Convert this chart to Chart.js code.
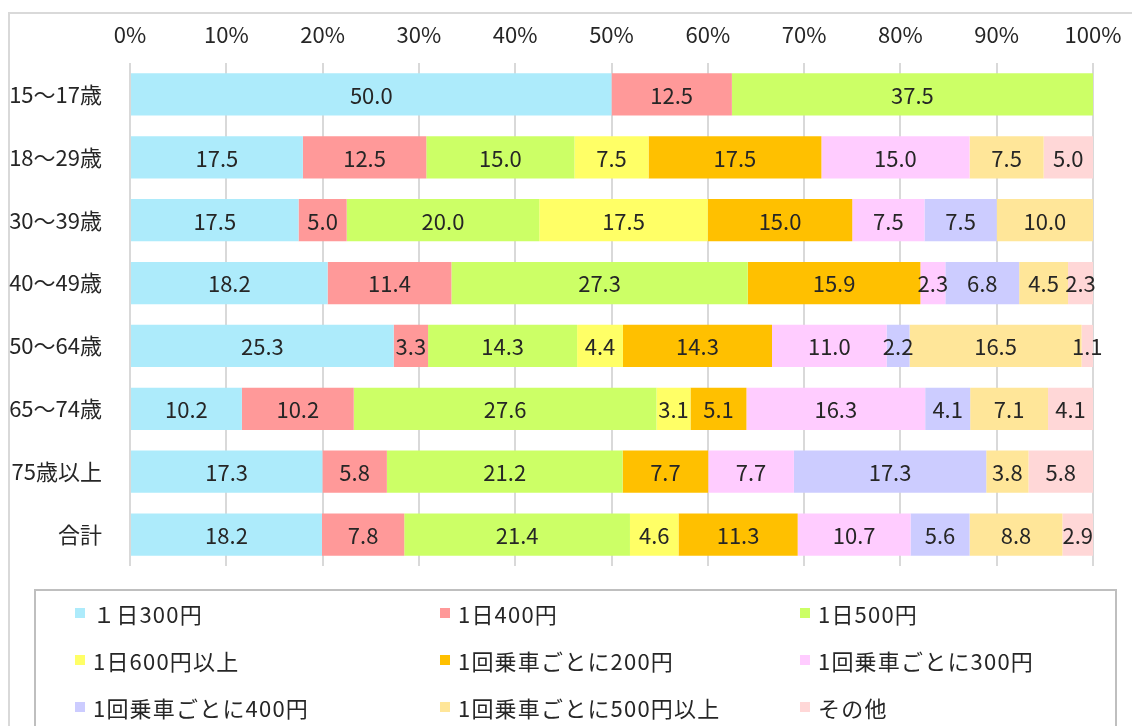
<!DOCTYPE html>
<html lang="ja">
<head>
<meta charset="utf-8">
<title>料金の希望（年齢別）</title>
<script src="https://cdn.jsdelivr.net/npm/chart.js@4"></script>
<style>
    body { margin: 0; background: #fff; }
    #wrap { position: relative; width: 1132px; height: 726px; overflow: hidden; font-family: "Noto Sans CJK JP", sans-serif; }
    #frame { position: absolute; left: 8px; top: 12px; width: 1200px; height: 800px; border-top: 2px solid #d9d9d9; border-left: 2px solid #d9d9d9; }
    #legend { position: absolute; left: 34px; top: 589px; width: 1083px; height: 200px; border: 2px solid #bfbfbf; box-sizing: border-box; }
    .item { position: absolute; display: flex; align-items: center; font-size: 22px; letter-spacing: 1.2px; color: #262626; white-space: nowrap; transform: translateY(-50%); }
    .item i { display: inline-block; width: 10px; height: 10px; margin-right: 8px; }
    canvas { position: absolute; left: 0; top: 0; }
</style>
</head>
<body>
<div id="wrap">
    <div id="frame"></div>
    <canvas id="chart" width="1132" height="726"></canvas>
    <div id="legend"></div>
</div>
<script>
const categories = ['15～17歳', '18～29歳', '30～39歳', '40～49歳', '50～64歳', '65～74歳', '75歳以上', '合計'];
const seriesNames = ['１日300円', '1日400円', '1日500円', '1日600円以上', '1回乗車ごとに200円',
    '1回乗車ごとに300円', '1回乗車ごとに400円', '1回乗車ごとに500円以上', 'その他'];
const xTicks = [0, 10, 20, 30, 40, 50, 60, 70, 80, 90, 100];

const day300 = [50.0, 17.5, 17.5, 18.2, 25.3, 10.2, 17.3, 18.2];
const day400 = [12.5, 12.5, 5.0, 11.4, 3.3, 10.2, 5.8, 7.8];
const day500 = [37.5, 15.0, 20.0, 27.3, 14.3, 27.6, 21.2, 21.4];
const day600 = [0, 7.5, 17.5, 0, 4.4, 3.1, 0, 4.6];
const ride200 = [0, 17.5, 15.0, 15.9, 14.3, 5.1, 7.7, 11.3];
const ride300 = [0, 15.0, 7.5, 2.3, 11.0, 16.3, 7.7, 10.7];
const ride400 = [0, 0, 7.5, 6.8, 2.2, 4.1, 17.3, 5.6];
const ride500 = [0, 7.5, 10.0, 4.5, 16.5, 7.1, 3.8, 8.8];
const other = [0, 5.0, 0, 2.3, 1.1, 4.1, 5.8, 2.9];

const seriesValues = [day300, day400, day500, day600, ride200, ride300, ride400, ride500, other];
const seriesColors = ['#adebfb', '#ff9999', '#ccff66', '#ffff66', '#ffc000', '#ffccff', '#ccccff', '#ffe699', '#ffd7d7'];

const FONT = '"Noto Sans CJK JP", sans-serif';
const TEXT = '#262626';

// 100% stacked: each row is scaled to its own total
const rowTotals = categories.map((c, j) => seriesValues.reduce((s, arr) => s + arr[j], 0));

const datasets = seriesNames.map((name, i) => ({
    label: name,
    rawValues: seriesValues[i],
    data: seriesValues[i].map((v, j) => v / rowTotals[j] * 100),
    backgroundColor: seriesColors[i],
    borderWidth: 0,
    barPercentage: 0.67,
    categoryPercentage: 1
}));

// draws the value in the middle of each segment
const valueLabels = {
    id: 'valueLabels',
    afterDatasetsDraw(chart) {
        const ctx = chart.ctx;
        ctx.save();
        ctx.font = '22px ' + FONT;
        ctx.fillStyle = TEXT;
        ctx.textAlign = 'center';
        ctx.textBaseline = 'middle';
        chart.data.datasets.forEach((ds, i) => {
            chart.getDatasetMeta(i).data.forEach((bar, j) => {
                const raw = ds.rawValues[j];
                if (!raw) return;
                ctx.fillText(raw.toFixed(1), (bar.x + bar.base) / 2, bar.y + 1);
            });
        });
        ctx.restore();
    }
};

new Chart(document.getElementById('chart'), {
    type: 'bar',
    data: { labels: categories, datasets: datasets },
    options: {
        indexAxis: 'y',
        responsive: false,
        animation: false,
        layout: { padding: { left: 0, top: 1, right: 39, bottom: 160 } },
        plugins: { legend: { display: false }, tooltip: { enabled: false } },
        scales: {
            x: {
                position: 'top',
                stacked: true,
                min: 0,
                max: 100,
                afterBuildTicks: scale => { scale.ticks = xTicks.map(v => ({ value: v })); },
                afterFit: scale => {
                    scale.height = 62;
                    // let layout padding decide the right edge, not the "100%" label
                    scale.paddingLeft = 0;
                    scale.paddingRight = 0;
                },
                ticks: {
                    callback: v => v + '%',
                    font: { family: FONT, size: 22 },
                    color: TEXT,
                    padding: 15
                },
                grid: { color: '#d9d9d9', lineWidth: 2, drawTicks: false },
                border: { display: false }
            },
            y: {
                stacked: true,
                afterFit: scale => { scale.width = 130; },
                ticks: {
                    font: { family: FONT, size: 22 },
                    color: TEXT,
                    padding: 20
                },
                grid: { display: false },
                border: { display: false }
            }
        }
    },
    plugins: [valueLabels]
});

// legend in three fixed columns like the original
const legend = document.getElementById('legend');
const colX = [39, 404, 764];
const rowY = [22, 69, 116];
seriesNames.forEach((name, i) => {
    const el = document.createElement('div');
    el.className = 'item';
    el.style.left = colX[i % 3] + 'px';
    el.style.top = rowY[Math.floor(i / 3)] + 'px';
    el.innerHTML = `<i style="background:${seriesColors[i]}"></i>${name}`;
    legend.appendChild(el);
});
</script>
</body>
</html>
